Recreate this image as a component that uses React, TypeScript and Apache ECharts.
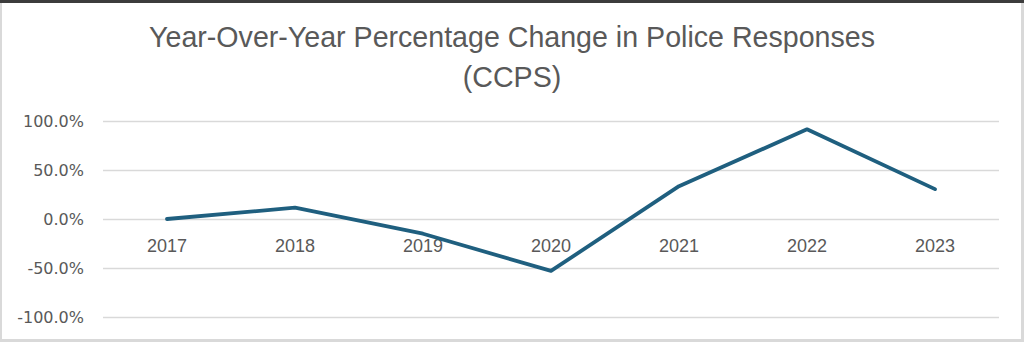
import React, { useEffect, useRef } from "react";
import * as echarts from "echarts";

const years = ["2017", "2018", "2019", "2020", "2021", "2022", "2023"];
const yoyChange = [0.0, 11.5, -15.0, -53.0, 33.5, 91.5, 30.5];
const titleLines = ["Year-Over-Year Percentage Change in Police Responses", "(CCPS)"];

export default function App() {
  const ref = useRef<HTMLDivElement>(null);
  useEffect(() => {
    if (!ref.current) return;
    const chart = echarts.init(ref.current, null, { renderer: "svg" });
    chart.setOption({
      animation: false,
      backgroundColor: "#ffffff",
      title: {
        text: titleLines.join("\n"),
        left: "center",
        top: 12,
        textStyle: {
          fontFamily: "Liberation Sans",
          fontSize: 28.6,
          fontWeight: "normal",
          color: "#595959",
          lineHeight: 40,
        },
      },
      graphic: [
        { type: "rect", shape: { x: 0, y: 0, width: 1024, height: 3 }, style: { fill: "#3c3c3c" }, silent: true },
        { type: "rect", shape: { x: 0, y: 3, width: 2, height: 339 }, style: { fill: "#d9d9d9" }, silent: true },
        { type: "rect", shape: { x: 1021, y: 3, width: 3, height: 339 }, style: { fill: "#d9d9d9" }, silent: true },
        { type: "rect", shape: { x: 0, y: 339, width: 1024, height: 3 }, style: { fill: "#d9d9d9" }, silent: true },
      ],
      grid: { left: 103, right: 25, top: 121, bottom: 25, containLabel: false, outerBoundsMode: "none" },
      xAxis: {
        type: "category",
        data: years,
        boundaryGap: true,
        offset: -98,
        axisLine: { show: false, onZero: false },
        axisTick: { show: false },
        axisLabel: { color: "#595959", fontSize: 18, fontFamily: "Liberation Sans", margin: 18 },
        splitLine: { show: false },
      },
      yAxis: {
        type: "value",
        min: -100,
        max: 100,
        interval: 50,
        axisLine: { show: false },
        axisTick: { show: false },
        axisLabel: {
          color: "#595959",
          fontSize: 16,
          fontFamily: "DejaVu Sans",
          margin: 19,
          formatter: (v: number) => v.toFixed(1) + "%",
        },
        splitLine: { lineStyle: { color: "#d9d9d9", width: 1.3 } },
      },
      series: [
        {
          type: "line",
          data: yoyChange,
          showSymbol: false,
          symbol: "none",
          lineStyle: { color: "#1f5f7f", width: 3.8, cap: "round", join: "round" },
        },
      ],
    });
    return () => chart.dispose();
  }, []);
  return <div ref={ref} style={{ position: "fixed", left: 0, top: 0, width: 1024, height: 342 }} />;
}
